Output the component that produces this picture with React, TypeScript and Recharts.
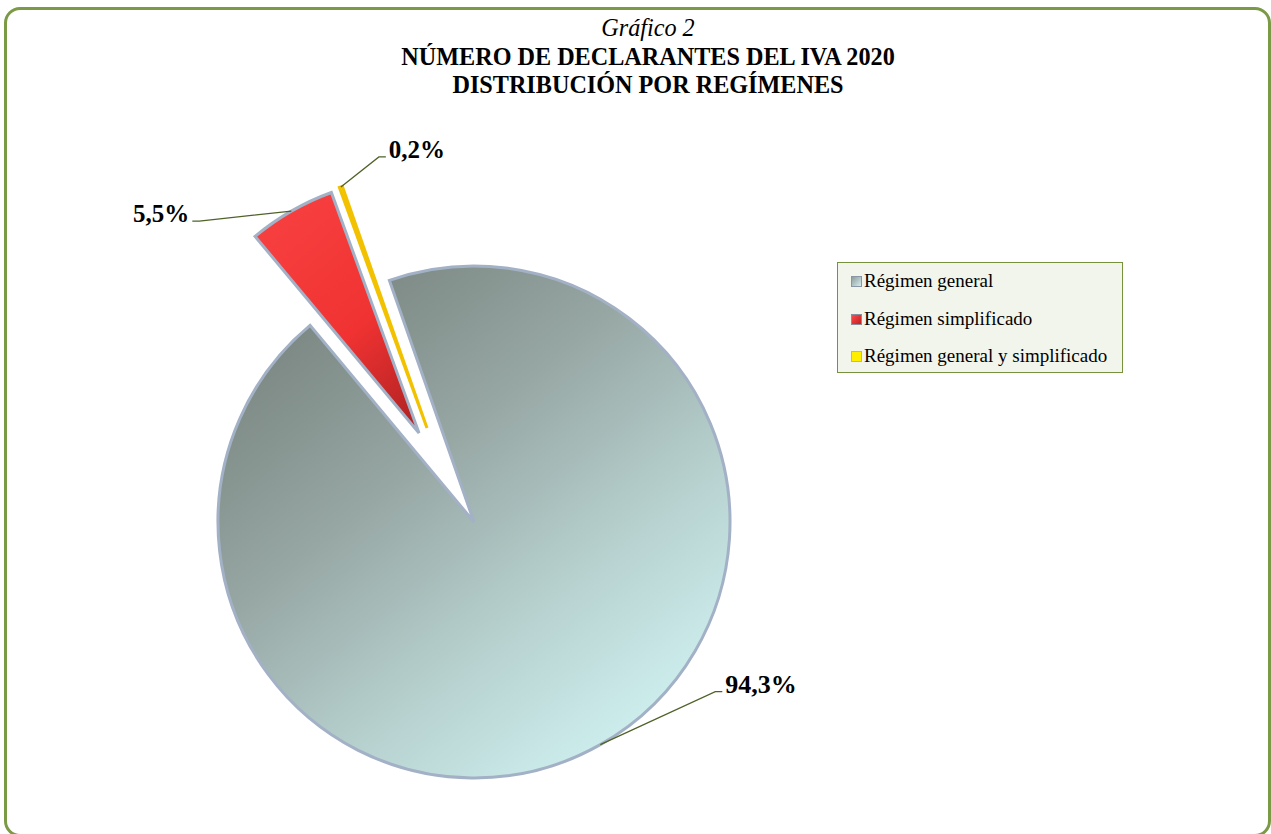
import { PieChart, Pie, Cell, Legend } from 'recharts'

const CATEGORIES = ['Régimen general', 'Régimen simplificado', 'Régimen general y simplificado']
const SHARES = [94.3, 5.5, 0.2]
const SHARE_LABELS = ['94,3%', '5,5%', '0,2%']

const pieData = CATEGORIES.map((name, i) => ({ name, value: SHARES[i] }))

// layout
const CENTER = { x: 474, y: 522 }
const RADIUS = 256
const START_ANGLE = 109.3
// explosion of each slice away from the main center
const EXPLODE = [
  { dx: 0, dy: 0 },
  { dx: -55, dy: -89 },
  { dx: -47, dy: -94 },
]
// leader line elbows, relative to the point on the arc
const LEADERS = [
  { dx: 115, dy: -53, side: 1, size: 26 },
  { dx: -92, dy: 10, side: -1, size: 25 },
  { dx: 38, dy: -30, side: 1, size: 25 },
]
const EDGE = ['#a3b1c6', '#a3b1c6', '#f2c200']
const MARKER = [
  { fill: 'linear-gradient(135deg, #8e9c9a, #d4eeee)', border: '#8a96a8' },
  { fill: 'linear-gradient(135deg, #ff4a4a, #c02020)', border: '#8a8f9c' },
  { fill: '#ffee00', border: '#f5b800' },
]
const RAD = Math.PI / 180
const SERIF = "'Liberation Serif', 'Times New Roman', serif"

const renderLabel = (own: number) => (props: any) => {
  const { cx, cy, midAngle, outerRadius, index } = props
  if (index !== own) return null
  const ax = cx + outerRadius * Math.cos(midAngle * RAD)
  const ay = cy - outerRadius * Math.sin(midAngle * RAD)
  const l = LEADERS[index]
  const ex = ax + l.dx
  const ey = ay + l.dy
  const hx = ex + l.side * 7
  return (
    <g>
      <polyline points={`${ax},${ay} ${ex},${ey} ${hx},${ey}`} fill="none" stroke="#4f6228" strokeWidth={1.3} />
      <text
        x={hx + l.side * 3}
        y={ey + 1}
        textAnchor={l.side > 0 ? 'start' : 'end'}
        style={{ fontFamily: SERIF, fontWeight: 'bold', fontSize: l.size }}
        fill="#000"
      >
        {SHARE_LABELS[index]}
      </text>
    </g>
  )
}

const LegendBox = () => (
  <div
    style={{
      boxSizing: 'border-box',
      width: 286,
      height: 111,
      background: '#f2f5eb',
      border: '1px solid #76923c',
      fontFamily: SERIF,
      fontSize: 19,
      color: '#000',
      paddingLeft: 13,
      textAlign: 'left',
    }}
  >
    {CATEGORIES.map((c, i) => (
      <div key={c} style={{ lineHeight: '37.5px', height: 37.5, whiteSpace: 'nowrap', marginTop: i === 0 ? -1 : 0 }}>
        <span
          style={{
            display: 'inline-block',
            boxSizing: 'border-box',
            width: 11,
            height: 11,
            background: MARKER[i].fill,
            border: `1.5px solid ${MARKER[i].border}`,
            marginRight: 2,
            verticalAlign: 'baseline',
          }}
        />
        {c}
      </div>
    ))}
  </div>
)

export default function App() {
  return (
    <div style={{ position: 'absolute', left: 0, top: 0, width: 1271, height: 834, background: '#fff', overflow: 'hidden' }}>
      <svg width={0} height={0} style={{ position: 'absolute' }}>
        <defs>
          <linearGradient id="g0" x1="0.12" y1="0.08" x2="0.85" y2="1">
            <stop offset="0" stopColor="#78847f" />
            <stop offset="0.35" stopColor="#97a7a4" />
            <stop offset="0.65" stopColor="#b6d0ce" />
            <stop offset="1" stopColor="#d4f7f7" />
          </linearGradient>
          <linearGradient id="g1" x1="0.2" y1="0" x2="0.8" y2="1">
            <stop offset="0" stopColor="#f84040" />
            <stop offset="0.6" stopColor="#f03232" />
            <stop offset="1" stopColor="#b82424" />
          </linearGradient>
          <linearGradient id="g2" x1="0" y1="0" x2="1" y2="1">
            <stop offset="0" stopColor="#fff000" />
            <stop offset="1" stopColor="#ffd800" />
          </linearGradient>
        </defs>
      </svg>

      <div
        style={{
          position: 'absolute',
          left: 4,
          top: 7,
          width: 1267,
          height: 830,
          boxSizing: 'border-box',
          border: '3px solid #7b9a46',
          borderRadius: 16,
        }}
      />

      <div
        style={{
          position: 'absolute',
          left: 0,
          top: 14,
          width: 1296,
          textAlign: 'center',
          fontFamily: SERIF,
          fontSize: 24.2,
          lineHeight: '28.5px',
          color: '#000',
        }}
      >
        <div style={{ fontStyle: 'italic' }}>Gráfico 2</div>
        <div style={{ fontWeight: 'bold' }}>NÚMERO DE DECLARANTES DEL IVA 2020</div>
        <div style={{ fontWeight: 'bold' }}>DISTRIBUCIÓN POR REGÍMENES</div>
      </div>

      <div style={{ position: 'absolute', left: 0, top: 0 }}>
        <PieChart width={1271} height={834} margin={{ top: 0, right: 0, bottom: 0, left: 0 }}>
          {EXPLODE.map((off, k) => (
            <Pie
              key={k}
              data={pieData}
              dataKey="value"
              nameKey="name"
              cx={CENTER.x + off.dx}
              cy={CENTER.y + off.dy}
              outerRadius={RADIUS}
              startAngle={START_ANGLE}
              endAngle={START_ANGLE - 360}
              isAnimationActive={false}
              label={renderLabel(k)}
              labelLine={false}
              legendType="none"
            >
              {pieData.map((d, i) => (
                <Cell
                  key={d.name}
                  fill={i === k ? `url(#g${i})` : 'none'}
                  stroke={i === k ? EDGE[i] : 'none'}
                  strokeWidth={i === k ? 3 : 0}
                />
              ))}
            </Pie>
          ))}
          <Legend
            content={() => <LegendBox />}
            wrapperStyle={{ left: 837, top: 262, bottom: 'auto', width: 286, height: 111 }}
          />
        </PieChart>
      </div>
    </div>
  )
}
